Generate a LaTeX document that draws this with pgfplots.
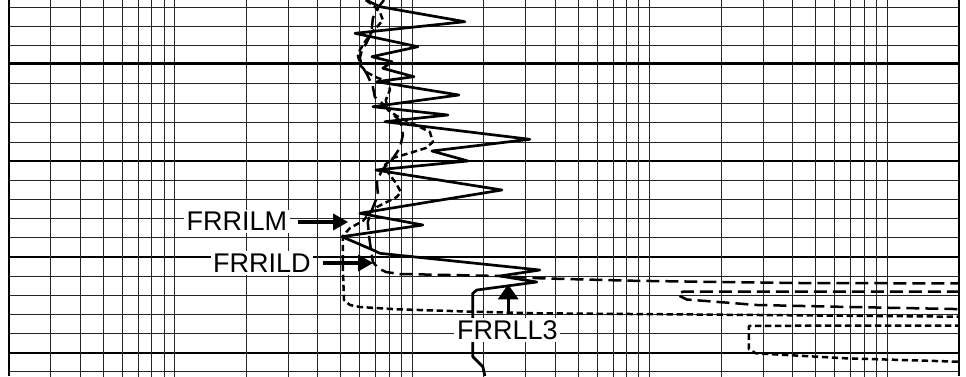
\documentclass[border=0pt]{standalone}
\usepackage{fontspec}
\setmainfont{Liberation Sans}
\usepackage{pgfplots}
\pgfplotsset{compat=1.18}
\usetikzlibrary{arrows.meta}
\newcommand\vg[1]{\addplot[black!85, line width=0.5pt, forget plot] coordinates {(#1,-5) (#1,381)};}

\begin{document}
\begin{tikzpicture}
\begin{axis}[
  scale only axis, width=474.85pt, height=188pt,
  xmode=log, xmin=0.2, xmax=2000,
  ymin=0, ymax=376, y dir=reverse,
  separate axis lines,
  x axis line style={draw=none},
  y axis line style={line width=1pt, black},
  xticklabels={},
  ytick={7.3,26,45.3,83.7,103,122.7,142,180,199.3,218.3,237.3,276,295,314.3,333,371.8},
  extra y ticks={161.3,256.7,352.7},
  extra y tick labels={},
  extra y tick style={major y grid style={line width=0.9pt, black}},
  ymajorgrids,
  major y grid style={black!85, line width=0.5pt},
  yticklabels={},
  major tick length=0pt, minor tick length=0pt,
  tick style={draw=none},
]
% vertical log grid lines (0.3 ... 1000)
\vg{0.3}\vg{0.4}\vg{0.5}\vg{0.6}\vg{0.7}\vg{0.8}\vg{0.9}\vg{1}
\vg{2}\vg{3}\vg{4}\vg{5}\vg{6}\vg{7}\vg{8}\vg{9}\vg{10}
\vg{20}\vg{30}\vg{40}\vg{50}\vg{60}\vg{70}\vg{80}\vg{90}\vg{100}
\vg{200}\vg{300}\vg{400}\vg{500}\vg{600}\vg{700}\vg{800}\vg{900}\vg{1000}
% thick depth line
\addplot[black, line width=1.4pt, forget plot] coordinates {(0.1,63.7) (3000,63.7)};
% FRRILM (short dash)
\addplot[black, line width=1.25pt, dash pattern=on 3.2pt off 1.8pt, line join=round] coordinates {
(6.37,0) (6.88,6) (7.30,12) (7.51,20) (7.16,26) (6.75,32) (6.31,42) (6.01,50) (5.90,56) (6.07,66) (6.49,73) (7.16,78) (7.96,82) (8.04,90) (7.73,100) (7.88,110) (8.86,118) (10.55,126) (11.85,132) (12.20,142) (11.40,148) (9.76,153) (8.28,158) (7.66,165) (7.88,172) (8.52,183) (8.94,192) (8.60,197) (7.09,207) (6.62,213) (6.19,221) (5.46,228) (5.10,236) (5.10,270) (5.15,300) (5.46,305) (6.01,307) (8.60,309.3) (17.97,311.7) (34.42,313.3) (290.5,315) (2000,316.7) (2702,317) (2702,325.5) (2000,325.5) (428.1,325.7) (261.1,326) (261.1,332) (261.1,349) (279.5,353.3) (668.9,358.3) (2000,361.7) (2702,362)
};
% FRRILD (long dash)
\addplot[black, line width=1.25pt, dash pattern=on 6.5pt off 3pt, line join=round] coordinates {
(7.59,0) (7.16,8) (6.82,18) (6.75,28) (6.62,36) (6.37,44) (6.13,50) (6.01,58) (6.13,66) (6.43,74) (6.82,87) (6.95,97) (7.44,103) (8.20,113) (8.94,122) (9.12,135) (8.86,148) (8.20,160) (7.44,170) (7.09,182) (7.16,195) (6.75,210) (6.49,222) (6.56,235) (6.69,250) (6.82,262) (7.16,268) (7.73,272) (8.86,274) (14.38,275) (23.36,276) (34.42,278.3) (82.4,280.7) (162.4,281.7) (428.1,283) (2452,283.5) (2452,291.5) (137.7,291.7) (131.2,295) (143.1,299.5) (282.2,305) (695.3,307) (2452,309.5)
};
% FRRLL3 (solid)
\addplot[black, line width=1.35pt, line join=round] coordinates {
(6.37,0) (7.30,6.7) (16.64,21.7) (5.73,33.3) (10.55,46.7) (6.75,56.7) (8.20,61.7) (7.51,68.3) (10.15,76.7) (7.09,81.7) (15.70,95) (6.82,106.7) (14.11,115) (7.66,121.7) (31.24,139.3) (12.08,151) (17.13,161) (7.02,170) (23.82,190) (6.01,213.3) (11.07,225) (5.05,236.7) (6.82,250) (7.30,253.3) (34.42,270) (23.36,276) (33.43,282) (18.69,290) (17.97,293.3) (17.97,311.7) (17.97,346.7) (17.97,356.7) (19.81,366.7) (20.20,376)
};
% labels and arrows
\node[fill=white, inner sep=1.3pt, font=\fontsize{13.5}{15}\selectfont] at (axis cs:1.824,221.5) {FRRILM};
\draw[line width=1.6pt, -{Triangle[length=7.5pt,width=8pt]}] (axis cs:3.296,222) -- (axis cs:5.366,222);
\node[fill=white, inner sep=1.3pt, font=\fontsize{13.5}{15}\selectfont] at (axis cs:2.324,263) {FRRILD};
\draw[line width=1.6pt, -{Triangle[length=7.5pt,width=8pt]}] (axis cs:4.19,263) -- (axis cs:6.84,263);
\node[fill=white, inner sep=1.3pt, font=\fontsize{13.5}{15}\selectfont] at (axis cs:25.12,330) {FRRLL3};
\draw[line width=1.6pt, -{Triangle[length=7.5pt,width=10pt]}] (axis cs:25.32,314.3) -- (axis cs:25.32,284.3);
\end{axis}
\pgfresetboundingbox
\useasboundingbox (-4.5pt,0pt) rectangle (478.5pt,188pt);
\end{tikzpicture}
\end{document}
